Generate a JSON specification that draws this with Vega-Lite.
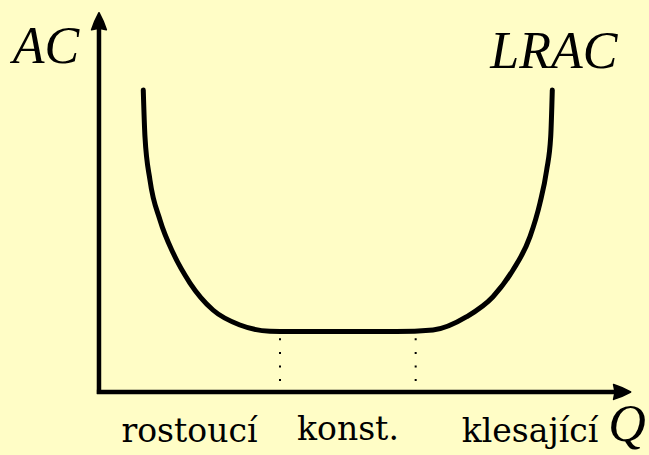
{
  "$schema": "https://vega.github.io/schema/vega-lite/v6.json",
  "width": 649,
  "height": 455,
  "autosize": {"type": "fit", "contains": "padding"},
  "padding": 0,
  "background": "#fffdc6",
  "config": {"view": {"stroke": null}},
  "datasets": {
    "curve": [
      {"Q": 8.34, "AC": 79.47}, {"Q": 8.66, "AC": 67.18}, {"Q": 9.60, "AC": 55.79},
      {"Q": 11.49, "AC": 45.26}, {"Q": 13.99, "AC": 36.50}, {"Q": 17.14, "AC": 28.68},
      {"Q": 21.47, "AC": 21.58}, {"Q": 26.55, "AC": 17.63}, {"Q": 32.2, "AC": 16.0},
      {"Q": 36, "AC": 15.9}, {"Q": 56, "AC": 15.9}, {"Q": 62.9, "AC": 16.32},
      {"Q": 69.25, "AC": 19.82}, {"Q": 74.2, "AC": 25.08}, {"Q": 77.97, "AC": 32.11},
      {"Q": 81.17, "AC": 40.87}, {"Q": 83.05, "AC": 49.74}, {"Q": 84.31, "AC": 58.42},
      {"Q": 85.07, "AC": 67.18}, {"Q": 85.37, "AC": 79.47}
    ],
    "axes": [
      {"q": 0, "q2": 0, "ac": -0.55, "ac2": 96},
      {"q": -0.4, "q2": 97.5, "ac": 0, "ac2": 0}
    ],
    "arrowUp": [{"Q": 0, "AC": 97.32}],
    "arrowRight": [{"Q": 98.34, "AC": 0}],
    "guides": [
      {"q": 34.09, "top": 14.13, "bottom": 2.76},
      {"q": 59.64, "top": 14.13, "bottom": 2.76}
    ],
    "roman": [
      {"label": "rostoucí", "Q": 17.04, "AC": -13.08},
      {"label": "konst.", "Q": 46.89, "AC": -12.63},
      {"label": "klesající", "Q": 81.17, "AC": -13.08}
    ],
    "italic": [
      {"label": "AC", "Q": -9.98, "AC": 86.58},
      {"label": "LRAC", "Q": 85.65, "AC": 85.34},
      {"label": "Q", "Q": 99.44, "AC": -12.9}
    ]
  },
  "layer": [
    {
      "data": {"name": "axes"},
      "mark": {"type": "rule", "color": "black", "strokeWidth": 4.5, "clip": false},
      "encoding": {
        "x": {"field": "q", "type": "quantitative", "scale": {"domain": [-18.64, 103.58], "nice": false, "zero": false}, "axis": null},
        "x2": {"field": "q2"},
        "y": {"field": "ac", "type": "quantitative", "scale": {"domain": [-16.58, 103.16], "nice": false, "zero": false}, "axis": null},
        "y2": {"field": "ac2"}
      }
    },
    {
      "data": {"name": "arrowUp"},
      "mark": {"type": "point", "filled": true, "color": "black", "stroke": "black", "strokeWidth": 1.5, "strokeJoin": "round", "size": 361, "opacity": 1,
        "shape": "M0,-1 C0.3,-0.45 0.62,0.3 0.78,0.8 L0,0.64 L-0.78,0.8 C-0.62,0.3 -0.3,-0.45 0,-1 Z"},
      "encoding": {
        "x": {"field": "Q", "type": "quantitative"},
        "y": {"field": "AC", "type": "quantitative"}
      }
    },
    {
      "data": {"name": "arrowRight"},
      "mark": {"type": "point", "filled": true, "color": "black", "stroke": "black", "strokeWidth": 1.5, "strokeJoin": "round", "size": 361, "opacity": 1,
        "shape": "M1,0 C0.45,0.3 -0.3,0.62 -0.8,0.78 L-0.64,0 L-0.8,-0.78 C-0.3,-0.62 0.45,-0.3 1,0 Z"},
      "encoding": {
        "x": {"field": "Q", "type": "quantitative"},
        "y": {"field": "AC", "type": "quantitative"}
      }
    },
    {
      "data": {"name": "guides"},
      "mark": {"type": "rule", "color": "black", "strokeWidth": 2, "strokeDash": [2, 11.6], "strokeCap": "butt"},
      "encoding": {
        "x": {"field": "q", "type": "quantitative"},
        "y": {"field": "top", "type": "quantitative"},
        "y2": {"field": "bottom"}
      }
    },
    {
      "data": {"name": "curve"},
      "mark": {"type": "line", "color": "black", "strokeWidth": 5, "strokeCap": "round", "interpolate": "monotone"},
      "encoding": {
        "x": {"field": "Q", "type": "quantitative"},
        "y": {"field": "AC", "type": "quantitative"},
        "order": {"field": "Q", "type": "quantitative"}
      }
    },
    {
      "data": {"name": "roman"},
      "mark": {"type": "text", "font": "DejaVu Serif", "fontSize": 33, "color": "black", "align": "center", "baseline": "alphabetic"},
      "encoding": {
        "x": {"field": "Q", "type": "quantitative"},
        "y": {"field": "AC", "type": "quantitative"},
        "text": {"field": "label"}
      }
    },
    {
      "data": {"name": "italic"},
      "mark": {"type": "text", "font": "Liberation Serif", "fontStyle": "italic", "fontSize": 52, "color": "black", "align": "center", "baseline": "alphabetic"},
      "encoding": {
        "x": {"field": "Q", "type": "quantitative"},
        "y": {"field": "AC", "type": "quantitative"},
        "text": {"field": "label"}
      }
    }
  ]
}
